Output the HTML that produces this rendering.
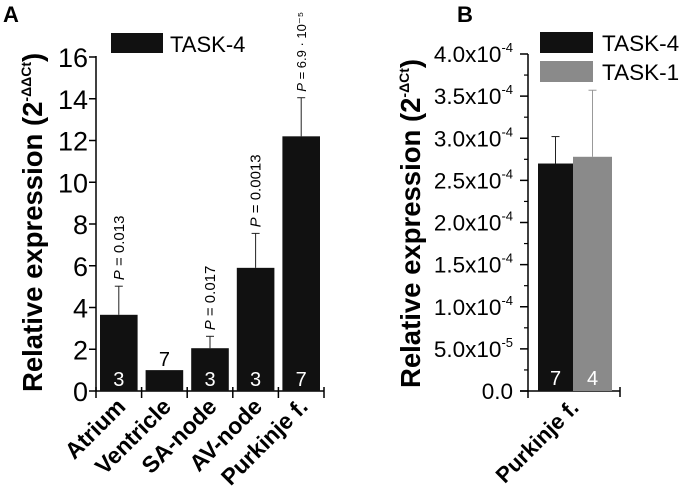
<!DOCTYPE html>
<html><head><meta charset="utf-8"><style>
body{margin:0;background:#fff}
svg{display:block;font-family:"Liberation Sans",Arial,sans-serif}
</style></head><body>
<svg id="c" width="683" height="498" viewBox="0 0 683 498" xmlns="http://www.w3.org/2000/svg">
<text x="3" y="22" font-size="22" font-weight="bold">A</text>
<text x="457" y="22" font-size="22" font-weight="bold">B</text>
<g id="ga"></g><g id="gb"></g>
</svg>
<script>
const catsA=["Atrium","Ventricle","SA-node","AV-node","Purkinje  f."];
const valsA=[3.65,1.0,2.05,5.9,12.2];
const errTopA=[5.02,null,2.62,7.55,14.05];
const nA=["3","7","3","3","7"];
const pA=["0.013",null,"0.017","0.0013","6.9 · 10⁻⁵"];
const ticksA=[0,2,4,6,8,10,12,14,16];
const catsB=["Purkinje f."];
const seriesB=["TASK-4","TASK-1"];
const valsB=[2.70e-4,2.78e-4];
const errTopB=[3.02e-4,3.57e-4];
const nB=["7","4"];
const ticksB=[0,0.5e-4,1e-4,1.5e-4,2e-4,2.5e-4,3e-4,3.5e-4,4e-4];
const ticksBLab=["0.0","5.0x10","1.0x10","1.5x10","2.0x10","2.5x10","3.0x10","3.5x10","4.0x10"];
const ticksBExp=["","-5","-4","-4","-4","-4","-4","-4","-4"];
const NS="http://www.w3.org/2000/svg";
function mk(p,t,a,txt){const e=document.createElementNS(NS,t);for(const k in a)e.setAttribute(k,a[k]);if(txt!=null)e.textContent=txt;p.appendChild(e);return e;}
// Panel A
const ga=document.getElementById('ga');
const ax0=96,ax1=324,ay0=391,ay1=57;
const yA=v=>ay0-(v/16)*(ay0-ay1);
const cw=(ax1-ax0)/catsA.length;
const xA=i=>ax0+cw*i;
let e;
e=mk(ga,'line',{x1:ax0,y1:ay0,x2:ax0,y2:ay1-1,stroke:'#000','stroke-width':1.5});


e=mk(ga,'line',{x1:ax0,y1:ay0,x2:ax1,y2:ay0,stroke:'#000','stroke-width':1.5});


ticksA.forEach(t=>{
 mk(ga,'line',{x1:ax0-7,y1:yA(t),x2:ax0,y2:yA(t),stroke:'#000','stroke-width':1.5});
 e=mk(ga,'text',{x:88,y:yA(t)+10,'font-size':27,'text-anchor':'end'},String(t));
 
 
});
for(let i=0;i<=catsA.length;i++)mk(ga,'line',{x1:xA(i),y1:ay0-4,x2:xA(i),y2:ay0+7,stroke:'#000','stroke-width':1.5});
catsA.forEach((c,i)=>{
 const bx=xA(i)+4,bw=cw-8,cx=bx+bw/2;
 if(errTopA[i]!=null){
  mk(ga,'line',{x1:cx,y1:yA(valsA[i]),x2:cx,y2:yA(errTopA[i]),stroke:'#222','stroke-width':1});
  mk(ga,'line',{x1:cx-4,y1:yA(errTopA[i]),x2:cx+4,y2:yA(errTopA[i]),stroke:'#222','stroke-width':1});
 }
 e=mk(ga,'rect',{x:bx,y:yA(valsA[i]),width:bw,height:ay0-yA(valsA[i]),fill:'#111'});
 
 
 const inside=(ay0-yA(valsA[i]))>30;
 e=mk(ga,'text',{x:cx,y:inside?ay0-5:yA(valsA[i])-4,'font-size':20,'text-anchor':'middle',fill:inside?'#fff':'#000'},nA[i]);
 
 
 if(pA[i]){
  const ty=yA(errTopA[i])-6;
  e=mk(ga,'text',{transform:`translate(${cx+5},${ty}) rotate(-90)`,'font-size':pA[i].length>6?13:15});
  
  
  mk(e,'tspan',{'font-style':'italic'},'P');
  mk(e,'tspan',{},' = '+pA[i]);
 }
 e=mk(ga,'text',{transform:`translate(${cx+8},${ay0+17}) rotate(-45)`,'font-size':23,'font-weight':'bold','text-anchor':'end'},c);
 
 
});
e=mk(ga,'rect',{x:111,y:33,width:52,height:20,fill:'#111'});


e=mk(ga,'text',{x:170,y:52,'font-size':22},'TASK-4');


e=mk(ga,'text',{transform:'translate(42,392) rotate(-90)','font-size':27.5,'font-weight':'bold'});


mk(e,'tspan',{},'Relative expression (2');
mk(e,'tspan',{dy:-11,'font-size':14},'-ΔΔCt');
mk(e,'tspan',{dy:11},')');
// Panel B
const gb=document.getElementById('gb');
const bx0=528,bx1=620,by0=391,by1=54;
const yB=v=>by0-(v/4e-4)*(by0-by1);
e=mk(gb,'line',{x1:bx0,y1:by0,x2:bx0,y2:by1,stroke:'#000','stroke-width':1.5});


e=mk(gb,'line',{x1:bx0-8,y1:by0,x2:bx1,y2:by0,stroke:'#000','stroke-width':1.5});


mk(gb,'line',{x1:bx0,y1:by0,x2:bx0,y2:by0+7,stroke:'#000','stroke-width':1.5});
mk(gb,'line',{x1:bx1,y1:by0-4,x2:bx1,y2:by0+6,stroke:'#000','stroke-width':1.5});
ticksB.forEach((t,i)=>{
 mk(gb,'line',{x1:bx0-8,y1:yB(t),x2:bx0,y2:yB(t),stroke:'#000','stroke-width':1.5});
 if(i<ticksB.length-1){const m=(t+ticksB[i+1])/2;mk(gb,'line',{x1:bx0-4,y1:yB(m),x2:bx0,y2:yB(m),stroke:'#000','stroke-width':1.2});}
 e=mk(gb,'text',{x:513,y:yB(t)+8,'font-size':22.5,'text-anchor':'end'});
 
 
 if(ticksBExp[i]){mk(e,'tspan',{},ticksBLab[i]);mk(e,'tspan',{dy:-10,'font-size':13},ticksBExp[i]);}
 else e.textContent=ticksBLab[i];
});
const colsB=['#111','#8a8a8a'],errColB=['#222','#999'];
const bbx=[538,573],bbw=[35,39];
seriesB.forEach((s,i)=>{
 const cx=bbx[i]+bbw[i]/2;
 mk(gb,'line',{x1:cx,y1:yB(valsB[i]),x2:cx,y2:yB(errTopB[i]),stroke:errColB[i],'stroke-width':1});
 mk(gb,'line',{x1:cx-4,y1:yB(errTopB[i]),x2:cx+4,y2:yB(errTopB[i]),stroke:errColB[i],'stroke-width':1});
 e=mk(gb,'rect',{x:bbx[i],y:yB(valsB[i]),width:bbw[i],height:by0-yB(valsB[i]),fill:colsB[i]});
 
 
 e=mk(gb,'text',{x:cx,y:by0-6,'font-size':20,'text-anchor':'middle',fill:'#fff'},nB[i]);
 
 
 e=mk(gb,'rect',{x:540,y:32+i*29,width:53,height:21,fill:colsB[i]});
 
 
 e=mk(gb,'text',{x:602,y:51+i*29,'font-size':22.5},s);
 
 
});
e=mk(gb,'text',{transform:`translate(580,${by0+18}) rotate(-45)`,'font-size':22,'font-weight':'bold','text-anchor':'end'},catsB[0]);


e=mk(gb,'text',{transform:'translate(420,388) rotate(-90)','font-size':27.5,'font-weight':'bold'});


mk(e,'tspan',{},'Relative expression (2');
mk(e,'tspan',{dy:-11,'font-size':14},'-ΔCt');
mk(e,'tspan',{dy:11},')');
</script>
</body></html>
